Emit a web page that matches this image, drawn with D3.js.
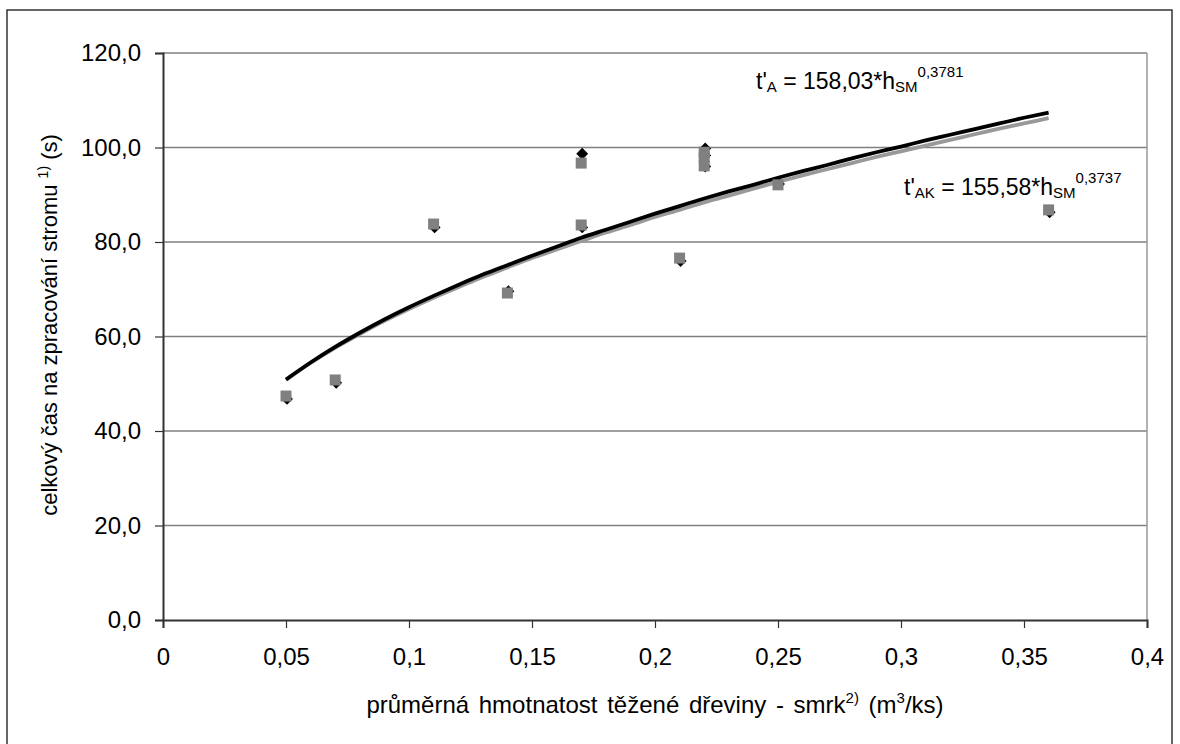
<!DOCTYPE html>
<html>
<head>
<meta charset="utf-8">
<script src="https://cdn.jsdelivr.net/npm/d3@7/dist/d3.min.js"></script>
<style>
  body { margin: 0; background: #fff; }
  text { font-family: "Liberation Sans", Arial, sans-serif; fill: #000; }
</style>
</head>
<body>
<svg id="chart" width="1180" height="744"></svg>
<script>
// measured points (x = mean tree volume, y = total time)
var pointX = [0.05, 0.07, 0.11, 0.14, 0.17, 0.17, 0.21, 0.22, 0.22, 0.22, 0.25, 0.36];
var timeA  = [47.0, 50.4, 83.3, 69.8, 98.9, 83.3, 76.2, 100.0, 98.5, 96.2, 92.5, 86.5];
var timeAK = [47.4, 50.8, 83.8, 69.2, 96.7, 83.6, 76.6, 99.0, 98.0, 96.1, 92.1, 86.8];

// trend curves
var curveX = [0.05, 0.06, 0.07, 0.08, 0.09, 0.10, 0.11, 0.12, 0.13, 0.14, 0.15, 0.16,
              0.17, 0.18, 0.19, 0.20, 0.21, 0.22, 0.23, 0.24, 0.25, 0.26, 0.27, 0.28,
              0.29, 0.30, 0.31, 0.32, 0.33, 0.34, 0.35, 0.36];
var curveA = [50.9, 54.5, 57.8, 60.8, 63.6, 66.2, 68.6, 70.9, 73.1, 75.1, 77.1, 79.0,
              80.9, 82.6, 84.3, 86.0, 87.6, 89.2, 90.7, 92.1, 93.6, 95.0, 96.3, 97.7,
              99.0, 100.2, 101.5, 102.7, 103.9, 105.1, 106.3, 107.4];
var curveAK = [50.8, 54.4, 57.6, 60.5, 63.3, 65.8, 68.2, 70.4, 72.6, 74.6, 76.6, 78.4,
               80.2, 82.0, 83.6, 85.3, 86.8, 88.4, 89.8, 91.3, 92.7, 94.1, 95.4, 96.7,
               98.0, 99.2, 100.4, 101.6, 102.8, 104.0, 105.1, 106.2];

var xTicks = [0, 0.05, 0.1, 0.15, 0.2, 0.25, 0.3, 0.35, 0.4];
var yTicks = [0, 20, 40, 60, 80, 100, 120];

var svg = d3.select('#chart');
var pL = 163, pR = 1147, pT = 53, pB = 620;

var x = d3.scaleLinear().domain([0, 0.4]).range([pL, pR]);
var y = d3.scaleLinear().domain([0, 120]).range([pB, pT]);

var fmtX = function(d) { return String(d).replace('.', ','); };
var fmtY = function(d) { return d3.format('.1f')(d).replace('.', ','); };

// outer frame
svg.append('rect')
  .attr('x', 7).attr('y', 10).attr('width', 1165).attr('height', 745)
  .attr('fill', 'none').attr('stroke', '#333').attr('stroke-width', 1.5);

// grid
svg.append('g').selectAll('line')
  .data(yTicks.filter(function(d) { return d > 0; }))
  .enter().append('line')
  .attr('x1', pL).attr('x2', pR)
  .attr('y1', function(d) { return y(d); })
  .attr('y2', function(d) { return y(d); })
  .attr('stroke', '#808080').attr('stroke-width', 1.5);

// right border of plot area
svg.append('line')
  .attr('x1', pR).attr('x2', pR).attr('y1', pT).attr('y2', pB)
  .attr('stroke', '#999').attr('stroke-width', 1.5);

// axes
var yAxis = svg.append('g')
  .attr('transform', 'translate(' + pL + ',0)')
  .call(d3.axisLeft(y).tickValues(yTicks).tickFormat(fmtY).tickSize(8).tickPadding(14));
var xAxis = svg.append('g')
  .attr('transform', 'translate(0,' + pB + ')')
  .call(d3.axisBottom(x).tickValues(xTicks).tickFormat(fmtX).tickSize(8).tickPadding(20));

[yAxis, xAxis].forEach(function(a) {
  a.select('.domain').attr('stroke', '#333').attr('stroke-width', 2);
  a.selectAll('.tick line').attr('stroke', '#333').attr('stroke-width', 1.2);
  a.selectAll('.tick text').attr('font-size', '24px').attr('font-family', '"Liberation Sans", Arial, sans-serif');
});

// trend lines
var line = d3.line()
  .x(function(d) { return x(d[0]); })
  .y(function(d) { return y(d[1]); })
  .curve(d3.curveMonotoneX);

svg.append('path')
  .attr('d', line(d3.zip(curveX, curveAK)))
  .attr('fill', 'none').attr('stroke', '#999').attr('stroke-width', 3.8);

svg.append('path')
  .attr('d', line(d3.zip(curveX, curveA)))
  .attr('fill', 'none').attr('stroke', '#000').attr('stroke-width', 3.8);

// points
svg.append('g').selectAll('path')
  .data(d3.zip(pointX, timeA))
  .enter().append('path')
  .attr('d', d3.symbol().type(d3.symbolDiamond2).size(90))
  .attr('transform', function(d) { return 'translate(' + (x(d[0]) + 1) + ',' + (y(d[1]) + 1) + ')'; })
  .attr('fill', '#000');

svg.append('g').selectAll('rect')
  .data(d3.zip(pointX, timeAK))
  .enter().append('rect')
  .attr('x', function(d) { return x(d[0]) - 5.5; })
  .attr('y', function(d) { return y(d[1]) - 5.5; })
  .attr('width', 11).attr('height', 11)
  .attr('fill', '#808080');

// equations
function equation(px, py, sub, body, sup) {
  var t = svg.append('text').attr('x', px).attr('y', py).attr('font-size', '23px');
  t.append('tspan').text("t'");
  t.append('tspan').attr('font-size', '15px').attr('dy', 3).text(sub);
  t.append('tspan').attr('dy', -3).text(body);
  t.append('tspan').attr('font-size', '15px').attr('dy', 3).text('SM');
  t.append('tspan').attr('font-size', '15px').attr('dy', -15).text(sup);
}
equation(756, 89, 'A', ' = 158,03*h', '0,3781');
equation(904, 195, 'AK', ' = 155,58*h', '0,3737');

// axis titles
var xt = svg.append('text')
  .attr('x', 655).attr('y', 713).attr('text-anchor', 'middle')
  .attr('font-size', '24px').attr('word-spacing', '3px');
xt.append('tspan').text('průměrná hmotnatost těžené dřeviny - smrk');
xt.append('tspan').attr('font-size', '15px').attr('dy', -10).text('2)');
xt.append('tspan').attr('dy', 10).text(' (m');
xt.append('tspan').attr('font-size', '15px').attr('dy', -10).text('3');
xt.append('tspan').attr('dy', 10).text('/ks)');

var yt = svg.append('text')
  .attr('transform', 'translate(57,325) rotate(-90)')
  .attr('text-anchor', 'middle').attr('font-size', '22px');
yt.append('tspan').text('celkový čas na zpracování stromu ');
yt.append('tspan').attr('font-size', '14px').attr('dy', -9).text('1)');
yt.append('tspan').attr('dy', 9).text(' (s)');
</script>
</body>
</html>
